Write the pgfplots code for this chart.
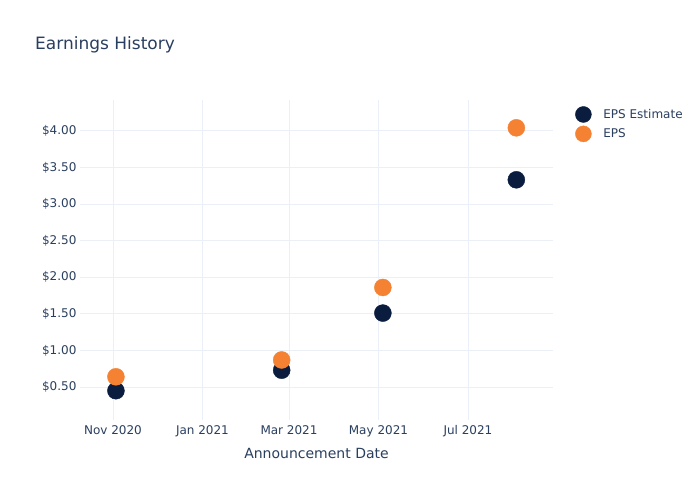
\documentclass[border=0pt]{standalone}
\usepackage{fontspec}
\setmainfont{DejaVu Sans}
\usepackage{pgfplots}
\pgfplotsset{compat=1.18}
\definecolor{navy}{HTML}{0B1D3F}
\definecolor{epsorange}{HTML}{F58233}
\definecolor{txt}{HTML}{2A3F5F}
\definecolor{gridc}{HTML}{EBF0F8}

% x = days since 1 Nov 2020
\begin{document}
\begin{tikzpicture}
\useasboundingbox (0pt,0pt) rectangle (700pt,500pt);
\fill[white] (0pt,0pt) rectangle (700pt,500pt);
\node[anchor=west, text=txt, font=\fontsize{17}{20}\selectfont, inner sep=0pt] at (35pt,455pt) {Earnings History};
\begin{axis}[
    at={(80pt,80pt)}, anchor=south west,
    scale only axis, width=473pt, height=320pt,
    xmin=-22.5, xmax=300, ymin=0.05, ymax=4.42,
    axis line style={draw=none},
    tick style={draw=none},
    grid=major, major grid style={gridc, line width=0.8pt},
    xtick={0,61,120,181,242},
    xticklabels={Nov 2020,Jan 2021,Mar 2021,May 2021,Jul 2021},
    ytick={0.5,1,1.5,2,2.5,3,3.5,4},
    yticklabels={\$0.50,\$1.00,\$1.50,\$2.00,\$2.50,\$3.00,\$3.50,\$4.00},
    ticklabel style={text=txt, font=\fontsize{12}{14}\selectfont},
    xticklabel style={yshift=-2pt},
    xlabel={Announcement Date},
    xlabel style={text=txt, font=\fontsize{14}{16}\selectfont, yshift=-4pt},
    clip=false,
    legend style={at={(1.0465,0.981)}, anchor=north west, draw=none, fill=none, inner sep=0pt,
        font=\fontsize{12}{14}\selectfont, text=txt, row sep=3pt,
        nodes={inner sep=0pt}},
    legend image code/.code={\fill[#1] (0pt,0pt) circle (8pt); \path[draw=none,fill=none] (-8pt,-8pt) rectangle (20pt,8pt);},
    legend cell align=left,
]
\addplot[only marks, mark=*, mark size=8.5pt, navy, mark options={draw=navy, fill=navy}]
    coordinates {(2,0.45) (115,0.73) (184,1.51) (275,3.33)};
\addlegendentry{EPS Estimate}
\addplot[only marks, mark=*, mark size=8.5pt, epsorange, mark options={draw=epsorange, fill=epsorange}]
    coordinates {(2,0.64) (115,0.87) (184,1.86) (275,4.04)};
\addlegendentry{EPS}
\end{axis}
\end{tikzpicture}
\end{document}
